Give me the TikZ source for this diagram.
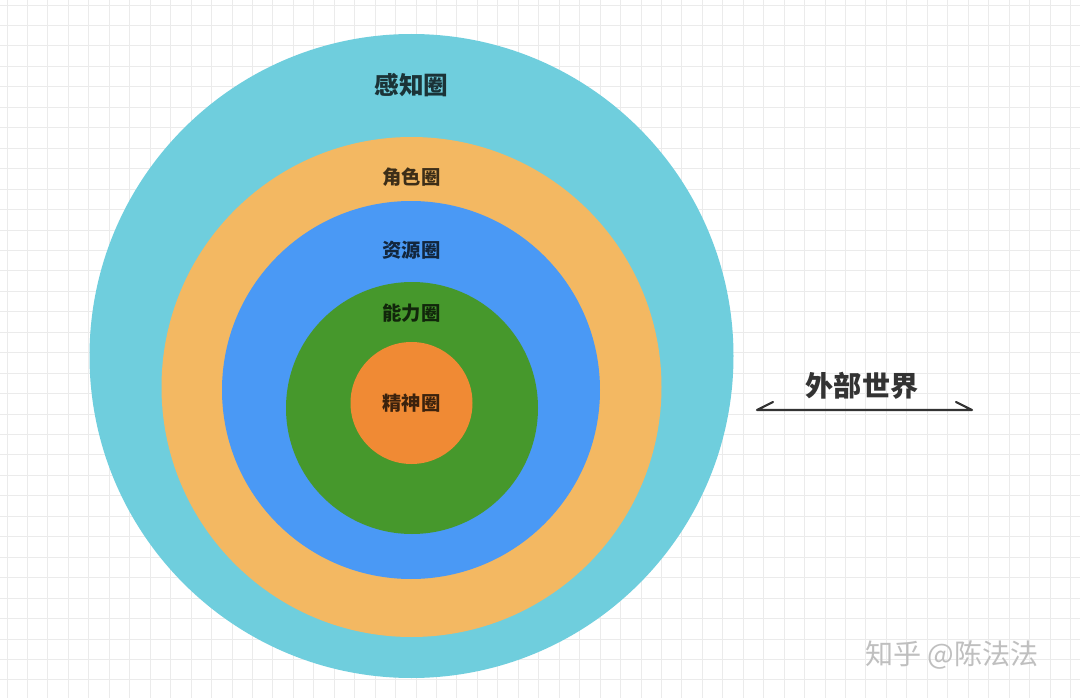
\documentclass[tikz,border=0pt]{standalone}
\usepackage{fontspec}
\newfontfamily\cjk{Noto Sans CJK SC}
\usetikzlibrary{positioning}
\definecolor{percCol}{HTML}{6FCEDD}
\definecolor{roleCol}{HTML}{F3B862}
\definecolor{resCol}{HTML}{4A99F5}
\definecolor{capCol}{HTML}{46982C}
\definecolor{spiritCol}{HTML}{F08A34}
\definecolor{gridCol}{HTML}{EBEBEB}
\tikzset{ring/.style = {circle, inner sep = 0, draw = none}}
\tikzset{ringlabel/.style = {font = \cjk\bfseries\fontsize{11}{11}\selectfont,
                             text = black, text opacity = 0.75}}
\tikzset{worldline/.style = {line width = 1.2pt, draw = black!80}}

\begin{document}
\begin{tikzpicture}[x=0.02cm, y=0.02cm]
    \useasboundingbox (0, 0) rectangle (1080, 698);
    \fill [white] (0, 0) rectangle (1080, 698);
    \foreach \i in {0,...,52}
      \draw [gridCol, line width = 0.5pt] (7 + 20.45*\i, 0) -- (7 + 20.45*\i, 698);
    \foreach \i in {0,...,34}
      \draw [gridCol, line width = 0.5pt] (0, 693 - 20.45*\i) -- (1080, 693 - 20.45*\i);

    \node [ring, fill = percCol, minimum size = 644*0.02cm] (perc) at (411.5, 342) {};
    \node [ring, fill = roleCol, minimum size = 500*0.02cm] (role) at (411.5, 311) {};
    \node [ring, fill = resCol, minimum size = 378*0.02cm] (res) at (411, 308) {};
    \node [ring, fill = capCol, minimum size = 252*0.02cm] (cap) at (412, 290) {};
    \node [ring, fill = spiritCol, minimum size = 122*0.02cm] (spirit) at (411.5, 295) {};

    \node [ringlabel, font = \cjk\bfseries\fontsize{14}{14}\selectfont] (percL) at (411.5, 613) {感知圈};
    \node [ringlabel] (roleL) at (411.5, 521) {角色圈};
    \node [ringlabel] (resL) at (411.5, 448) {资源圈};
    \node [ringlabel] (capL) at (411.5, 385) {能力圈};
    \node [ringlabel] (spiritL) at (411.5, 295) {精神圈};

    \node [font = \cjk\bfseries\fontsize{16}{16}\selectfont, text = black!80] (world) at (862, 312) {外部世界};
    \coordinate (wl) at (757, 288);
    \coordinate (wr) at (972, 288);
    \draw [worldline, line cap = round, line join = round]
      ([xshift = 16*0.02cm, yshift = 8*0.02cm] wl) -- (wl) -- (wr)
      -- ([xshift = -16*0.02cm, yshift = 8*0.02cm] wr);

    \node [font = \cjk\fontsize{16}{16}\selectfont, text = black!25] (mark) at (952, 43) {知乎 @陈法法};
  \end{tikzpicture}
\end{document}
